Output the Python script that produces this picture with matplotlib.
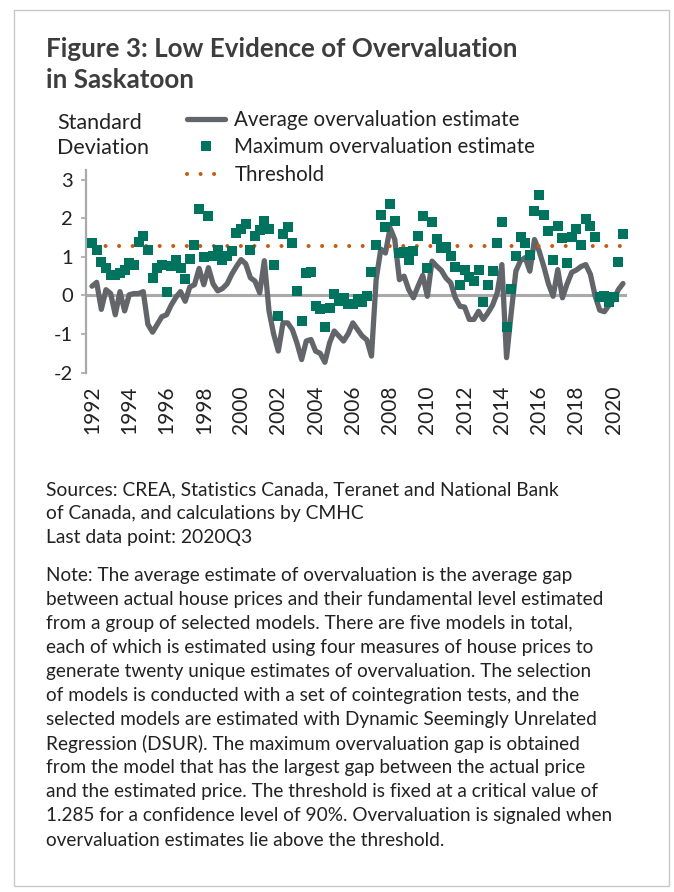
import matplotlib
matplotlib.use("Agg")
import matplotlib.pyplot as plt
from matplotlib.lines import Line2D
from matplotlib.patches import Rectangle
import numpy as np

# ---------------- data ----------------
start_year = 1992
quarters = np.arange(115)  # 1992Q1 .. 2020Q3

average_estimate = [
    0.24, 0.34, -0.36, 0.15, 0.05, -0.50, 0.10, -0.40, 0.02, 0.05,
    0.05, 0.10, -0.75, -0.95, -0.75, -0.55, -0.50, -0.25, -0.05, 0.10,
    -0.15, 0.22, 0.28, 0.70, 0.28, 0.72, 0.30, 0.12, 0.18, 0.30,
    0.55, 0.75, 0.93, 0.82, 0.46, 0.37, 0.07, 0.90, -0.40, -1.00,
    -1.44, -0.71, -0.71, -0.88, -1.23, -1.66, -1.18, -1.14, -1.44, -1.50,
    -1.73, -1.23, -0.92, -1.05, -1.18, -0.99, -0.71, -0.88, -1.05, -1.15,
    -1.57, 0.41, 1.20, 1.10, 1.75, 1.45, 0.41, 0.50, 0.15, -0.06,
    0.24, 0.52, -0.02, 0.89, 0.76, 0.65, 0.45, 0.33, -0.06, -0.28,
    -0.30, -0.62, -0.62, -0.41, -0.62, -0.45, -0.25, 0.07, 0.80, -1.61,
    -0.45, 0.63, 0.90, 0.98, 0.63, 1.45, 1.15, 0.75, 0.30, -0.02,
    0.67, -0.06, 0.30, 0.60, 0.66, 0.75, 0.80, 0.55, 0.00, -0.38,
    -0.42, -0.25, -0.10, 0.15, 0.31,
]

maximum_estimate = [
    1.36, 1.17, 0.86, 0.70, 0.54, 0.52, 0.59, 0.65, 0.85, 0.78,
    1.38, 1.54, 1.19, 0.44, 0.70, 0.79, 0.09, 0.76, 0.91, 0.70,
    0.43, 0.95, 1.30, 2.25, 1.00, 2.05, 1.02, 1.19, 0.91, 1.02,
    1.15, 1.61, 1.73, 1.84, 1.19, 1.54, 1.69, 1.93, 1.71, 0.78,
    -0.54, 1.58, 1.77, 1.36, 0.11, -0.67, 0.57, 0.60, -0.28, -0.36,
    -0.81, -0.32, 0.05, -0.13, -0.06, -0.23, -0.22, -0.09, -0.16, -0.02,
    0.60, 1.32, 2.08, 1.77, 2.38, 1.93, 1.09, 1.12, 0.93, 1.15,
    1.54, 2.07, 0.70, 1.90, 1.45, 1.22, 1.25, 1.02, 0.73, 0.27,
    0.66, 0.47, 0.37, 0.66, -0.17, 0.27, 0.63, 1.36, 1.90, -0.82,
    0.17, 1.02, 1.51, 1.36, 1.06, 2.18, 2.60, 2.08, 1.67, 0.93,
    1.80, 1.49, 0.83, 1.51, 1.71, 1.30, 1.97, 1.81, 1.51, -0.04,
    -0.02, -0.16, -0.04, 0.86, 1.60,
]

threshold = 1.285
year_labels = [str(y) for y in range(1992, 2021, 2)]
y_ticks = [-2, -1, 0, 1, 2, 3]

title_lines = ["Figure 3: Low Evidence of Overvaluation", "in Saskatoon"]
source_lines = [
    "Sources: CREA, Statistics Canada, Teranet and National Bank",
    "of Canada, and calculations by CMHC",
    "Last data point: 2020Q3",
]
note_lines = [
    "Note: The average estimate of overvaluation is the average gap",
    "between actual house prices and their fundamental level estimated",
    "from a group of selected models. There are five models in total,",
    "each of which is estimated using four measures of house prices to",
    "generate twenty unique estimates of overvaluation. The selection",
    "of models is conducted with a set of cointegration tests, and the",
    "selected models are estimated with Dynamic Seemingly Unrelated",
    "Regression (DSUR). The maximum overvaluation gap is obtained",
    "from the model that has the largest gap between the actual price",
    "and the estimated price. The threshold is fixed at a critical value of",
    "1.285 for a confidence level of 90%. Overvaluation is signaled when",
    "overvaluation estimates lie above the threshold.",
]

# ---------------- style ----------------
FONT = "Lato"
plt.rcParams["font.family"] = [FONT, "DejaVu Sans"]
W, H = 674, 892
LINE_C = "#626569"
TEAL = "#00735f"
ORANGE = "#c55a11"
AXIS_C = "#a9a9a9"
TEXT_C = "#222222"

fig = plt.figure(figsize=(W / 100, H / 100), dpi=100)

def fx(px):
    return px / W

def fy(py):
    return 1 - py / H

# frame
fig.patches.append(Rectangle((fx(14), fy(886)), fx(669) - fx(14), fy(10) - fy(886),
                             transform=fig.transFigure, fill=False,
                             edgecolor="#c8c8c8", lw=1.0))

ax = fig.add_axes([fx(86), fy(372.7), fx(627) - fx(86), fy(170) - fy(372.7)])

ax.axhline(0, color=AXIS_C, lw=2.2, zorder=1)
ax.plot(quarters, average_estimate, color=LINE_C, lw=3.8, solid_joinstyle="round",
        solid_capstyle="round", zorder=2)
ax.plot([quarters[0], quarters[-1]], [threshold, threshold], color=ORANGE, lw=2.9,
        linestyle=(0, (0.01, 3.35)), dash_capstyle="round", zorder=3)
ax.plot(quarters, maximum_estimate, linestyle="none", marker="s", markersize=6.6,
        color=TEAL, markeredgewidth=0, zorder=4)

ax.set_xlim(-1.29, 114.86)
ax.set_ylim(-2, 3.25)
ax.set_yticks(y_ticks)
ax.set_yticklabels([str(t) for t in y_ticks])
ax.set_xticks(np.arange(0, 115, 8))
ax.set_xticklabels(year_labels, rotation=90)

for s in ["top", "right", "bottom"]:
    ax.spines[s].set_visible(False)
ax.spines["left"].set_color(AXIS_C)
ax.spines["left"].set_linewidth(1.6)
ax.tick_params(axis="y", length=3.5, width=1.2, color=AXIS_C, pad=6,
               labelsize=14.5, labelcolor=TEXT_C)
ax.tick_params(axis="x", length=0, pad=9, labelsize=15, labelcolor=TEXT_C)
ax.set_facecolor("none")

# title
for i, t in enumerate(title_lines):
    fig.text(fx(46), fy(49 + 30.5 * i), t, fontsize=18.7, fontweight="bold",
             color="#3d3d3d", va="center", ha="left")

# y label
fig.text(fx(57), fy(123), "Standard", fontsize=15.5, color=TEXT_C, va="center")
fig.text(fx(57), fy(148), "Deviation", fontsize=15.5, color=TEXT_C, va="center")

# legend
handles = [
    Line2D([], [], color=LINE_C, lw=3.8, solid_capstyle="round"),
    Line2D([], [], linestyle="none", marker="s", markersize=6.6, color=TEAL,
           markeredgewidth=0),
    Line2D([], [], color=ORANGE, lw=2.9, linestyle=(0, (0.01, 3.35)),
           dash_capstyle="round"),
]
labels = ["Average overvaluation estimate", "Maximum overvaluation estimate", "Threshold"]
fig.legend(handles, labels, loc="upper left", bbox_to_anchor=(fx(187), fy(110)),
           bbox_transform=fig.transFigure, frameon=False, fontsize=14.8,
           handlelength=1.85, handletextpad=0.45, labelspacing=0.36,
           borderaxespad=0, borderpad=0, labelcolor=TEXT_C)

# sources
for i, t in enumerate(source_lines):
    fig.text(fx(46), fy(490 + 24 * i), t, fontsize=13.9, color=TEXT_C, va="center")

for i, t in enumerate(note_lines):
    fig.text(fx(46), fy(575 + 24.1 * i), t, fontsize=13.65, color=TEXT_C, va="center")

fig.savefig("out.png", dpi=100)
